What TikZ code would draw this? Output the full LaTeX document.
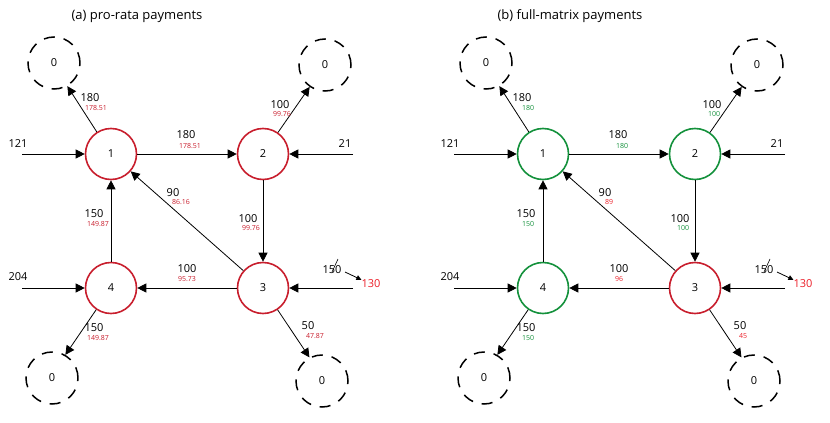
\documentclass[tikz,border=0pt]{standalone}
\usepackage{fontspec}
\setmainfont{Open Sans}
\usetikzlibrary{arrows.meta}
\definecolor{rd}{RGB}{200,30,45}
\definecolor{gr}{RGB}{20,145,60}
\definecolor{lr}{RGB}{235,30,40}
\tikzset{
 bank/.style={circle,line width=1.6pt,minimum size=51pt,inner sep=0pt,font=\fontsize{11}{12}\selectfont},
 sink/.style={circle,draw,dash pattern=on 11pt off 9pt,line width=1.5pt,minimum size=52pt,inner sep=0pt,font=\fontsize{11}{12}\selectfont},
 flow/.style={-{Triangle[length=9pt,width=9pt]},line width=0.8pt},
 big/.style={font=\fontsize{11}{12}\selectfont,inner sep=0pt},
 sm/.style={font=\fontsize{7}{8}\selectfont,inner sep=0pt},
}
\begin{document}
\begin{tikzpicture}[x=1pt,y=-1pt]
\useasboundingbox (0,0) rectangle (830,423);
\node[big,font=\fontsize{13}{14}\selectfont] (ta) at (137,16) {(a) pro-rata payments};
\node[big,font=\fontsize{13}{14}\selectfont] (tb) at (570,16) {(b) full-matrix payments};
% panel a
\begin{scope}
\node[bank,draw=rd] (a1) at (111,154) {1};
\node[bank,draw=rd] (a2) at (263,154) {2};
\node[bank,draw=rd] (a3) at (263,288) {3};
\node[bank,draw=rd] (a4) at (111,288) {4};
\node[sink] (as1) at (54,63) {0};
\node[sink] (as2) at (325,65) {0};
\node[sink] (as4) at (52,378) {0};
\node[sink] (as3) at (322,381) {0};
\coordinate (ai1) at (22,154); \coordinate (ai2) at (353,154);
\coordinate (ai4) at (22,288); \coordinate (ai3) at (353,288);
\draw[flow] (ai1) -- (a1); \draw[flow] (ai2) -- (a2);
\draw[flow] (ai4) -- (a4); \draw[flow] (ai3) -- (a3);
\draw[flow] (a1) -- (as1.300); \draw[flow] (a2) -- (as2.235);
\draw[flow] (a4) -- (as4.60); \draw[flow] (a3) -- (as3.118);
\draw[flow] (a1) -- (a2); \draw[flow] (a2) -- (a3);
\draw[flow] (a3) -- (a4); \draw[flow] (a4) -- (a1); \draw[flow] (a3) -- (a1);
\node[big] (al1) at (18,144) {121}; \node[big] (al2) at (345,144) {21};
\node[big] (al4) at (18,277) {204}; \node[big] (al3) at (332,270) {150};
\draw[line width=0.6pt] (al3.center)++(0,2) -- ++(6,-13);
\coordinate (ac) at (345,272); \node[big,text=lr] (an) at (371,284) {130};
\draw[-{Triangle[length=5pt,width=5pt]},line width=0.8pt] (ac) -- (an.north west);
\node[big] at (90,98) {180}; \node[sm,text=rd] at (96,108) {178.51};
\node[big] at (186,135) {180}; \node[sm,text=rd] at (190,146) {178.51};
\node[big] at (280,105) {100}; \node[sm,text=rd] at (282,114) {99.76};
\node[big] at (173,193) {90}; \node[sm,text=rd] at (181,202) {86.16};
\node[big] at (94,214) {150}; \node[sm,text=rd] at (98,224) {149.87};
\node[big] at (248,219) {100}; \node[sm,text=rd] at (251,228) {99.76};
\node[big] at (187,269) {100}; \node[sm,text=rd] at (187,279) {95.73};
\node[big] at (94,328) {150}; \node[sm,text=rd] at (98,338) {149.87};
\node[big] at (308,326) {50}; \node[sm,text=rd] at (315,336) {47.87};
\end{scope}
% panel b
\begin{scope}[xshift=432pt]
\node[bank,draw=gr] (b1) at (111,154) {1};
\node[bank,draw=gr] (b2) at (263,154) {2};
\node[bank,draw=rd] (b3) at (263,288) {3};
\node[bank,draw=gr] (b4) at (111,288) {4};
\node[sink] (bs1) at (54,63) {0};
\node[sink] (bs2) at (325,65) {0};
\node[sink] (bs4) at (52,378) {0};
\node[sink] (bs3) at (322,381) {0};
\coordinate (bi1) at (22,154); \coordinate (bi2) at (353,154);
\coordinate (bi4) at (22,288); \coordinate (bi3) at (353,288);
\draw[flow] (bi1) -- (b1); \draw[flow] (bi2) -- (b2);
\draw[flow] (bi4) -- (b4); \draw[flow] (bi3) -- (b3);
\draw[flow] (b1) -- (bs1.300); \draw[flow] (b2) -- (bs2.235);
\draw[flow] (b4) -- (bs4.60); \draw[flow] (b3) -- (bs3.118);
\draw[flow] (b1) -- (b2); \draw[flow] (b2) -- (b3);
\draw[flow] (b3) -- (b4); \draw[flow] (b4) -- (b1); \draw[flow] (b3) -- (b1);
\node[big] (bl1) at (18,144) {121}; \node[big] (bl2) at (345,144) {21};
\node[big] (bl4) at (18,277) {204}; \node[big] (bl3) at (332,270) {150};
\draw[line width=0.6pt] (bl3.center)++(0,2) -- ++(6,-13);
\coordinate (bc) at (345,272); \node[big,text=lr] (bn) at (371,284) {130};
\draw[-{Triangle[length=5pt,width=5pt]},line width=0.8pt] (bc) -- (bn.north west);
\node[big] at (90,98) {180}; \node[sm,text=gr] at (96,108) {180};
\node[big] at (186,135) {180}; \node[sm,text=gr] at (190,146) {180};
\node[big] at (280,105) {100}; \node[sm,text=gr] at (282,114) {100};
\node[big] at (173,193) {90}; \node[sm,text=lr] at (177,202) {89};
\node[big] at (94,214) {150}; \node[sm,text=gr] at (96,224) {150};
\node[big] at (248,219) {100}; \node[sm,text=gr] at (251,228) {100};
\node[big] at (187,269) {100}; \node[sm,text=lr] at (187,279) {96};
\node[big] at (94,328) {150}; \node[sm,text=gr] at (96,338) {150};
\node[big] at (308,326) {50}; \node[sm,text=lr] at (311,336) {45};
\end{scope}
\end{tikzpicture}
\end{document}
